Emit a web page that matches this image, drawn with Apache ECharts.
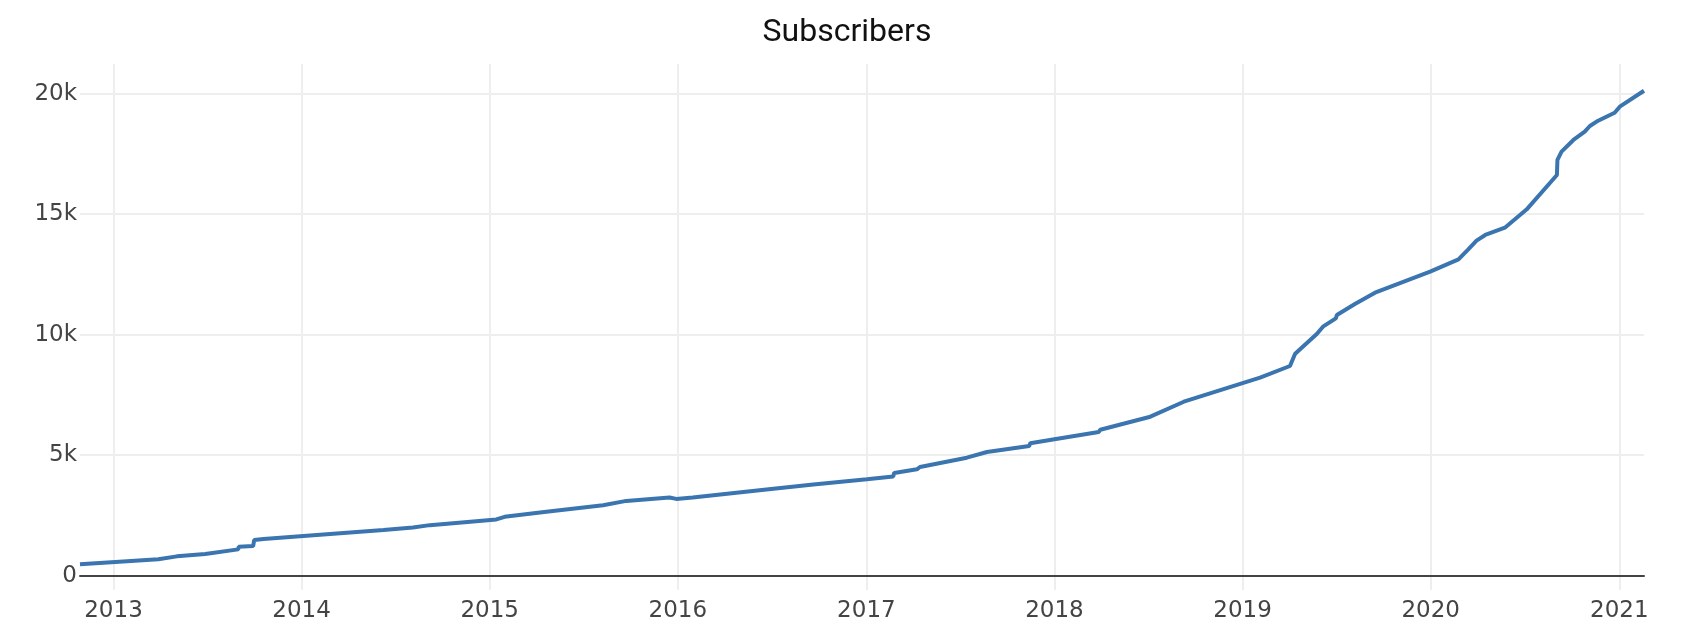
<!DOCTYPE html>
<html>
<head>
<meta charset="utf-8">
<title>Subscribers</title>
<script src="https://cdn.jsdelivr.net/npm/echarts@6/dist/echarts.min.js"></script>
<style>
  html, body { margin: 0; padding: 0; background: #fff; }
  #main { width: 1694px; height: 626px; }
</style>
</head>
<body>
<div id="main"></div>
<script>
// dates and subscriber counts
var dates = ['2012-10-28', '2013-03-29', '2013-05-04', '2013-06-28', '2013-08-31', '2013-09-01',
    '2013-09-29', '2013-10-01', '2013-10-19', '2014-06-09', '2014-08-05', '2014-09-07',
    '2015-01-14', '2015-01-30', '2015-04-21', '2015-08-09', '2015-09-23', '2015-12-16',
    '2015-12-29', '2016-01-30', '2016-06-21', '2016-09-20', '2017-01-02', '2017-02-22',
    '2017-02-24', '2017-04-09', '2017-04-15', '2017-07-15', '2017-08-23', '2017-11-13',
    '2017-11-15', '2018-01-01', '2018-03-28', '2018-03-31', '2018-07-06', '2018-09-09',
    '2019-01-01', '2019-02-04', '2019-04-03', '2019-04-13', '2019-05-25', '2019-06-06',
    '2019-07-01', '2019-07-03', '2019-08-07', '2019-09-15', '2019-12-31', '2020-02-24',
    '2020-03-14', '2020-03-30', '2020-04-16', '2020-05-24', '2020-07-05', '2020-09-02',
    '2020-09-03', '2020-09-11', '2020-10-04', '2020-10-26', '2020-11-05', '2020-11-21',
    '2020-12-23', '2021-01-02', '2021-02-18'];
var subscribers = [472, 679, 803, 898, 1093, 1200,
    1229, 1478, 1519, 1892, 2003, 2098,
    2334, 2443, 2650, 2926, 3104, 3245,
    3187, 3245, 3576, 3783, 4002, 4115,
    4265, 4414, 4510, 4896, 5132, 5381,
    5493, 5659, 5962, 6058, 6597, 7219,
    7992, 8215, 8700, 9210, 10028, 10331,
    10679, 10816, 11273, 11742, 12613, 13127,
    13542, 13899, 14136, 14439, 15190, 16625,
    17248, 17593, 18078, 18422, 18658, 18878,
    19210, 19459, 20121];
var xRange = ['2012-10-28', '2021-02-18'];
var yRange = [-593, 21230];

var seriesData = [];
for (var i = 0; i < dates.length; i++) {
    seriesData.push([dates[i], subscribers[i]]);
}

var tickFont = 'DejaVu Sans, Verdana, sans-serif';
var DAY = 24 * 3600 * 1000;

var myChart = echarts.init(document.getElementById('main'));
var option = {
    animation: false,
    title: {
        text: 'Subscribers',
        left: 'center',
        top: 12,
        textStyle: {
            fontFamily: 'Roboto',
            fontWeight: 'normal',
            fontSize: 32,
            color: '#111'
        }
    },
    grid: {
        left: 80,
        right: 50,
        top: 64,
        bottom: 36,
        containLabel: false,
        outerBoundsMode: 'none'
    },
    xAxis: {
        type: 'time',
        min: xRange[0],
        max: xRange[1],
        splitNumber: 9,
        minInterval: 365 * DAY,
        maxInterval: 366 * DAY,
        axisLine: {
            show: true,
            onZero: true,
            lineStyle: {color: '#444', width: 2}
        },
        axisTick: {show: false},
        axisLabel: {
            margin: 10,
            color: '#444',
            fontFamily: tickFont,
            fontSize: 23,
            showMinLabel: false,
            showMaxLabel: false,
            formatter: function (value) {
                return String(new Date(value).getFullYear());
            }
        },
        splitLine: {
            show: true,
            showMinLine: false,
            showMaxLine: false,
            lineStyle: {color: '#eeeeee', width: 2}
        }
    },
    yAxis: {
        type: 'value',
        min: yRange[0],
        max: yRange[1],
        axisLine: {show: false},
        axisTick: {show: false},
        axisLabel: {
            margin: 3,
            color: '#444',
            fontFamily: tickFont,
            fontSize: 23,
            showMinLabel: false,
            showMaxLabel: false,
            formatter: function (v) {
                return v === 0 ? '0' : (v / 1000) + 'k';
            }
        },
        splitLine: {
            show: true,
            showMinLine: false,
            showMaxLine: false,
            lineStyle: {color: '#eeeeee', width: 2}
        }
    },
    series: [{
        name: 'Subscribers',
        type: 'line',
        data: seriesData,
        showSymbol: false,
        symbol: 'none',
        lineStyle: {color: '#3a75b0', width: 4},
        itemStyle: {color: '#3a75b0'}
    }]
};
myChart.setOption(option);
</script>
</body>
</html>
